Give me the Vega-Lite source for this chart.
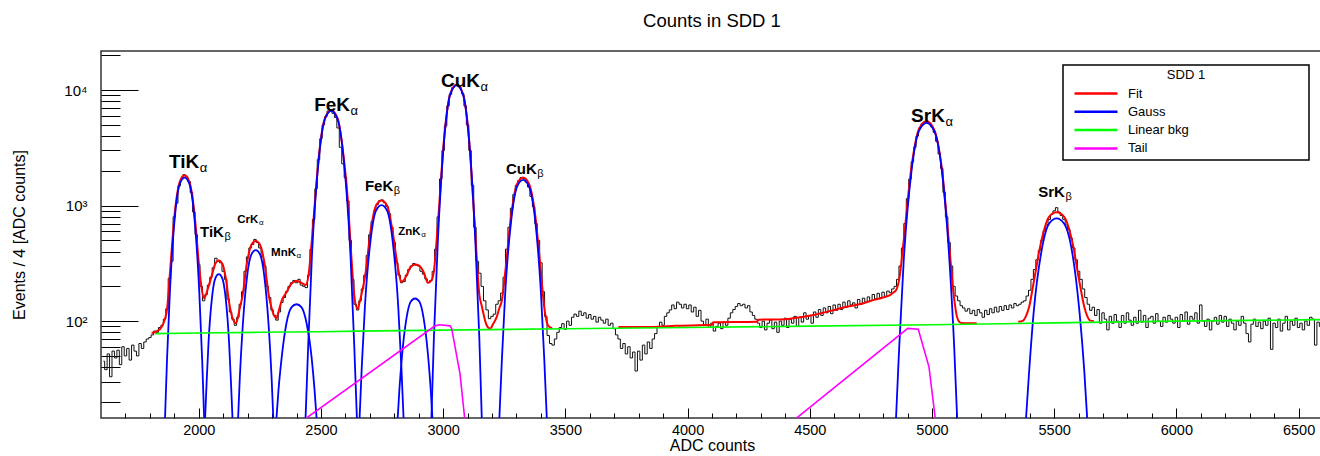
{
"$schema": "https://vega.github.io/schema/vega-lite/v6.json",
"width": 1222, "height": 367,
"autosize": {"type": "none"},
"padding": {"left": 101, "top": 51, "right": 0, "bottom": 38},
"background": "white",
"title": {"text": "Counts in SDD 1", "font": "Liberation Sans", "fontSize": 18.5, "fontWeight": "normal", "color": "black", "anchor": "middle", "frame": "group", "baseline": "alphabetic", "offset": 3},
"config": {"view": {"stroke": "#333", "strokeWidth": 1.5}, "font": "Liberation Sans"},
"datasets": {
"hist": [
{"adc":1610,"val":45},{"adc":1620,"val":38},{"adc":1630,"val":52},{"adc":1640,"val":33},{"adc":1650,"val":55},{"adc":1660,"val":48},{"adc":1670,"val":56},{"adc":1680,"val":42},{"adc":1690,"val":60},{"adc":1700,"val":50},
{"adc":1710,"val":58},{"adc":1720,"val":46},{"adc":1730,"val":62},{"adc":1740,"val":55},{"adc":1750,"val":50},{"adc":1760,"val":64},{"adc":1770,"val":58},{"adc":1780,"val":66},{"adc":1790,"val":70},{"adc":1800,"val":72},
{"adc":1810,"val":76},{"adc":1820,"val":82},{"adc":1830,"val":80},{"adc":1840,"val":88},{"adc":1850,"val":92},{"adc":1860,"val":104},{"adc":1870,"val":128},{"adc":1880,"val":235},{"adc":1890,"val":330},{"adc":1900,"val":800},
{"adc":1910,"val":1050},{"adc":1920,"val":1480},{"adc":1930,"val":1700},{"adc":1940,"val":1850},{"adc":1950,"val":1780},{"adc":1960,"val":1620},{"adc":1970,"val":1300},{"adc":1980,"val":880},{"adc":1990,"val":560},{"adc":2000,"val":310},
{"adc":2010,"val":200},{"adc":2020,"val":150},{"adc":2030,"val":170},{"adc":2040,"val":205},{"adc":2050,"val":240},{"adc":2060,"val":290},{"adc":2070,"val":350},{"adc":2080,"val":330},{"adc":2090,"val":320},{"adc":2100,"val":270},
{"adc":2110,"val":230},{"adc":2120,"val":155},{"adc":2130,"val":120},{"adc":2140,"val":104},{"adc":2150,"val":92},{"adc":2160,"val":108},{"adc":2170,"val":140},{"adc":2180,"val":180},{"adc":2190,"val":270},{"adc":2200,"val":360},
{"adc":2210,"val":430},{"adc":2220,"val":460},{"adc":2230,"val":510},{"adc":2240,"val":480},{"adc":2250,"val":430},{"adc":2260,"val":360},{"adc":2270,"val":300},{"adc":2280,"val":200},{"adc":2290,"val":160},{"adc":2300,"val":125},
{"adc":2310,"val":112},{"adc":2320,"val":102},{"adc":2330,"val":120},{"adc":2340,"val":145},{"adc":2350,"val":160},{"adc":2360,"val":180},{"adc":2370,"val":200},{"adc":2380,"val":215},{"adc":2390,"val":225},{"adc":2400,"val":215},
{"adc":2410,"val":230},{"adc":2420,"val":205},{"adc":2430,"val":200},{"adc":2440,"val":195},{"adc":2450,"val":250},{"adc":2460,"val":420},{"adc":2470,"val":760},{"adc":2480,"val":1400},{"adc":2490,"val":2500},{"adc":2500,"val":3800},
{"adc":2510,"val":5000},{"adc":2520,"val":5900},{"adc":2530,"val":6600},{"adc":2540,"val":6700},{"adc":2550,"val":6300},{"adc":2560,"val":5800},{"adc":2570,"val":4700},{"adc":2580,"val":3200},{"adc":2590,"val":2300},{"adc":2600,"val":1750},
{"adc":2610,"val":1100},{"adc":2620,"val":500},{"adc":2630,"val":230},{"adc":2640,"val":140},{"adc":2650,"val":125},{"adc":2660,"val":150},{"adc":2670,"val":190},{"adc":2680,"val":250},{"adc":2690,"val":370},{"adc":2700,"val":560},
{"adc":2710,"val":730},{"adc":2720,"val":900},{"adc":2730,"val":1020},{"adc":2740,"val":1100},{"adc":2750,"val":1120},{"adc":2760,"val":1060},{"adc":2770,"val":980},{"adc":2780,"val":850},{"adc":2790,"val":650},{"adc":2800,"val":480},
{"adc":2810,"val":320},{"adc":2820,"val":250},{"adc":2830,"val":215},{"adc":2840,"val":220},{"adc":2850,"val":250},{"adc":2860,"val":280},{"adc":2870,"val":300},{"adc":2880,"val":315},{"adc":2890,"val":305},{"adc":2900,"val":300},
{"adc":2910,"val":270},{"adc":2920,"val":255},{"adc":2930,"val":232},{"adc":2940,"val":215},{"adc":2950,"val":225},{"adc":2960,"val":270},{"adc":2970,"val":420},{"adc":2980,"val":800},{"adc":2990,"val":1700},{"adc":3000,"val":3000},
{"adc":3010,"val":4900},{"adc":3020,"val":7300},{"adc":3030,"val":9200},{"adc":3040,"val":10500},{"adc":3050,"val":11000},{"adc":3060,"val":11100},{"adc":3070,"val":10500},{"adc":3080,"val":9300},{"adc":3090,"val":7300},{"adc":3100,"val":5000},
{"adc":3110,"val":3000},{"adc":3120,"val":1500},{"adc":3130,"val":650},{"adc":3140,"val":330},{"adc":3150,"val":260},{"adc":3160,"val":200},{"adc":3170,"val":150},{"adc":3180,"val":125},{"adc":3190,"val":105},{"adc":3200,"val":110},
{"adc":3210,"val":115},{"adc":3220,"val":140},{"adc":3230,"val":150},{"adc":3240,"val":175},{"adc":3250,"val":240},{"adc":3260,"val":420},{"adc":3270,"val":650},{"adc":3280,"val":950},{"adc":3290,"val":1250},{"adc":3300,"val":1500},
{"adc":3310,"val":1650},{"adc":3320,"val":1750},{"adc":3330,"val":1720},{"adc":3340,"val":1600},{"adc":3350,"val":1450},{"adc":3360,"val":1200},{"adc":3370,"val":980},{"adc":3380,"val":700},{"adc":3390,"val":500},{"adc":3400,"val":320},
{"adc":3410,"val":180},{"adc":3420,"val":110},{"adc":3430,"val":75},{"adc":3440,"val":64},{"adc":3450,"val":62},{"adc":3460,"val":70},{"adc":3470,"val":80},{"adc":3480,"val":88},{"adc":3490,"val":95},{"adc":3500,"val":85},
{"adc":3510,"val":100},{"adc":3520,"val":92},{"adc":3530,"val":108},{"adc":3540,"val":115},{"adc":3550,"val":110},{"adc":3560,"val":122},{"adc":3570,"val":112},{"adc":3580,"val":118},{"adc":3590,"val":106},{"adc":3600,"val":114},
{"adc":3610,"val":104},{"adc":3620,"val":110},{"adc":3630,"val":98},{"adc":3640,"val":108},{"adc":3650,"val":102},{"adc":3660,"val":96},{"adc":3670,"val":104},{"adc":3680,"val":92},{"adc":3690,"val":96},{"adc":3700,"val":86},
{"adc":3710,"val":76},{"adc":3720,"val":70},{"adc":3730,"val":58},{"adc":3740,"val":64},{"adc":3750,"val":52},{"adc":3760,"val":60},{"adc":3770,"val":48},{"adc":3780,"val":54},{"adc":3790,"val":37},{"adc":3800,"val":55},
{"adc":3810,"val":46},{"adc":3820,"val":62},{"adc":3830,"val":52},{"adc":3840,"val":66},{"adc":3850,"val":58},{"adc":3860,"val":70},{"adc":3870,"val":78},{"adc":3880,"val":88},{"adc":3890,"val":98},{"adc":3900,"val":92},
{"adc":3910,"val":110},{"adc":3920,"val":118},{"adc":3930,"val":125},{"adc":3940,"val":138},{"adc":3950,"val":128},{"adc":3960,"val":146},{"adc":3970,"val":140},{"adc":3980,"val":130},{"adc":3990,"val":140},{"adc":4000,"val":128},
{"adc":4010,"val":138},{"adc":4020,"val":120},{"adc":4030,"val":132},{"adc":4040,"val":110},{"adc":4050,"val":124},{"adc":4060,"val":100},{"adc":4070,"val":92},{"adc":4080,"val":104},{"adc":4090,"val":88},{"adc":4100,"val":96},
{"adc":4110,"val":82},{"adc":4120,"val":90},{"adc":4130,"val":96},{"adc":4140,"val":86},{"adc":4150,"val":98},{"adc":4160,"val":92},{"adc":4170,"val":106},{"adc":4180,"val":118},{"adc":4190,"val":126},{"adc":4200,"val":134},
{"adc":4210,"val":142},{"adc":4220,"val":136},{"adc":4230,"val":140},{"adc":4240,"val":130},{"adc":4250,"val":136},{"adc":4260,"val":120},{"adc":4270,"val":112},{"adc":4280,"val":104},{"adc":4290,"val":96},{"adc":4300,"val":88},
{"adc":4310,"val":100},{"adc":4320,"val":84},{"adc":4330,"val":96},{"adc":4340,"val":102},{"adc":4350,"val":86},{"adc":4360,"val":98},{"adc":4370,"val":80},{"adc":4380,"val":100},{"adc":4390,"val":92},{"adc":4400,"val":106},
{"adc":4410,"val":88},{"adc":4420,"val":104},{"adc":4430,"val":96},{"adc":4440,"val":110},{"adc":4450,"val":90},{"adc":4460,"val":108},{"adc":4470,"val":98},{"adc":4480,"val":118},{"adc":4490,"val":104},{"adc":4500,"val":112},
{"adc":4510,"val":96},{"adc":4520,"val":120},{"adc":4530,"val":108},{"adc":4540,"val":126},{"adc":4550,"val":112},{"adc":4560,"val":130},{"adc":4570,"val":118},{"adc":4580,"val":134},{"adc":4590,"val":116},{"adc":4600,"val":138},
{"adc":4610,"val":124},{"adc":4620,"val":140},{"adc":4630,"val":126},{"adc":4640,"val":146},{"adc":4650,"val":132},{"adc":4660,"val":150},{"adc":4670,"val":138},{"adc":4680,"val":144},{"adc":4690,"val":130},{"adc":4700,"val":154},
{"adc":4710,"val":140},{"adc":4720,"val":158},{"adc":4730,"val":146},{"adc":4740,"val":162},{"adc":4750,"val":150},{"adc":4760,"val":170},{"adc":4770,"val":156},{"adc":4780,"val":174},{"adc":4790,"val":160},{"adc":4800,"val":178},
{"adc":4810,"val":164},{"adc":4820,"val":182},{"adc":4830,"val":176},{"adc":4840,"val":190},{"adc":4850,"val":200},{"adc":4860,"val":230},{"adc":4870,"val":300},{"adc":4880,"val":430},{"adc":4890,"val":700},{"adc":4900,"val":1150},
{"adc":4910,"val":1700},{"adc":4920,"val":2400},{"adc":4930,"val":3200},{"adc":4940,"val":4000},{"adc":4950,"val":4700},{"adc":4960,"val":5100},{"adc":4970,"val":5300},{"adc":4980,"val":5400},{"adc":4990,"val":5200},{"adc":5000,"val":4800},
{"adc":5010,"val":4300},{"adc":5020,"val":3600},{"adc":5030,"val":2800},{"adc":5040,"val":2100},{"adc":5050,"val":1300},{"adc":5060,"val":800},{"adc":5070,"val":480},{"adc":5080,"val":300},{"adc":5090,"val":200},{"adc":5100,"val":165},
{"adc":5110,"val":150},{"adc":5120,"val":136},{"adc":5130,"val":130},{"adc":5140,"val":122},{"adc":5150,"val":128},{"adc":5160,"val":116},{"adc":5170,"val":124},{"adc":5180,"val":112},{"adc":5190,"val":126},{"adc":5200,"val":118},
{"adc":5210,"val":108},{"adc":5220,"val":124},{"adc":5230,"val":114},{"adc":5240,"val":128},{"adc":5250,"val":118},{"adc":5260,"val":132},{"adc":5270,"val":120},{"adc":5280,"val":134},{"adc":5290,"val":124},{"adc":5300,"val":136},
{"adc":5310,"val":126},{"adc":5320,"val":138},{"adc":5330,"val":130},{"adc":5340,"val":142},{"adc":5350,"val":136},{"adc":5360,"val":140},{"adc":5370,"val":146},{"adc":5380,"val":150},{"adc":5390,"val":165},{"adc":5400,"val":185},
{"adc":5410,"val":230},{"adc":5420,"val":280},{"adc":5430,"val":340},{"adc":5440,"val":410},{"adc":5450,"val":500},{"adc":5460,"val":600},{"adc":5470,"val":680},{"adc":5480,"val":760},{"adc":5490,"val":840},{"adc":5500,"val":900},
{"adc":5510,"val":960},{"adc":5520,"val":880},{"adc":5530,"val":820},{"adc":5540,"val":760},{"adc":5550,"val":680},{"adc":5560,"val":620},{"adc":5570,"val":520},{"adc":5580,"val":430},{"adc":5590,"val":340},{"adc":5600,"val":270},
{"adc":5610,"val":230},{"adc":5620,"val":190},{"adc":5630,"val":160},{"adc":5640,"val":140},{"adc":5650,"val":124},{"adc":5660,"val":132},{"adc":5670,"val":112},{"adc":5680,"val":126},{"adc":5690,"val":96},{"adc":5700,"val":118},
{"adc":5710,"val":104},{"adc":5720,"val":84},{"adc":5730,"val":110},{"adc":5740,"val":96},{"adc":5750,"val":114},{"adc":5760,"val":100},{"adc":5770,"val":88},{"adc":5780,"val":112},{"adc":5790,"val":96},{"adc":5800,"val":118},
{"adc":5810,"val":102},{"adc":5820,"val":92},{"adc":5830,"val":108},{"adc":5840,"val":96},{"adc":5850,"val":124},{"adc":5860,"val":98},{"adc":5870,"val":112},{"adc":5880,"val":88},{"adc":5890,"val":106},{"adc":5900,"val":110},
{"adc":5910,"val":96},{"adc":5920,"val":116},{"adc":5930,"val":100},{"adc":5940,"val":90},{"adc":5950,"val":108},{"adc":5960,"val":98},{"adc":5970,"val":112},{"adc":5980,"val":104},{"adc":5990,"val":96},{"adc":6000,"val":108},
{"adc":6010,"val":88},{"adc":6020,"val":114},{"adc":6030,"val":100},{"adc":6040,"val":120},{"adc":6050,"val":94},{"adc":6060,"val":110},{"adc":6070,"val":104},{"adc":6080,"val":118},{"adc":6090,"val":96},{"adc":6100,"val":138},
{"adc":6110,"val":100},{"adc":6120,"val":90},{"adc":6130,"val":104},{"adc":6140,"val":84},{"adc":6150,"val":100},{"adc":6160,"val":108},{"adc":6170,"val":94},{"adc":6180,"val":112},{"adc":6190,"val":98},{"adc":6200,"val":110},
{"adc":6210,"val":90},{"adc":6220,"val":104},{"adc":6230,"val":96},{"adc":6240,"val":84},{"adc":6250,"val":100},{"adc":6260,"val":92},{"adc":6270,"val":110},{"adc":6280,"val":96},{"adc":6290,"val":78},{"adc":6300,"val":66},
{"adc":6310,"val":94},{"adc":6320,"val":104},{"adc":6330,"val":90},{"adc":6340,"val":98},{"adc":6350,"val":86},{"adc":6360,"val":100},{"adc":6370,"val":92},{"adc":6380,"val":106},{"adc":6390,"val":57},{"adc":6400,"val":96},
{"adc":6410,"val":88},{"adc":6420,"val":104},{"adc":6430,"val":82},{"adc":6440,"val":96},{"adc":6450,"val":110},{"adc":6460,"val":84},{"adc":6470,"val":100},{"adc":6480,"val":92},{"adc":6490,"val":106},{"adc":6500,"val":88},
{"adc":6510,"val":96},{"adc":6520,"val":84},{"adc":6530,"val":100},{"adc":6540,"val":92},{"adc":6550,"val":108},{"adc":6560,"val":104},{"adc":6570,"val":62},{"adc":6580,"val":98},{"adc":6590,"val":90},{"adc":6600,"val":96}
],
"curves": [
{"series":"Fit","part":"f1","adc":1807,"val":79},{"series":"Fit","part":"f1","adc":1830,"val":82},{"series":"Fit","part":"f1","adc":1848,"val":89},{"series":"Fit","part":"f1","adc":1862,"val":105},{"series":"Fit","part":"f1","adc":1870,"val":125},{"series":"Fit","part":"f1","adc":1882,"val":260},{"series":"Fit","part":"f1","adc":1902,"val":870},{"series":"Fit","part":"f1","adc":1922,"val":1600},{"series":"Fit","part":"f1","adc":1942,"val":1830},{"series":"Fit","part":"f1","adc":1962,"val":1600},
{"series":"Fit","part":"f1","adc":1982,"val":870},{"series":"Fit","part":"f1","adc":2002,"val":290},{"series":"Fit","part":"f1","adc":2012,"val":190},{"series":"Fit","part":"f1","adc":2021,"val":158},{"series":"Fit","part":"f1","adc":2032,"val":175},{"series":"Fit","part":"f1","adc":2040,"val":200},{"series":"Fit","part":"f1","adc":2054,"val":250},{"series":"Fit","part":"f1","adc":2068,"val":316},{"series":"Fit","part":"f1","adc":2082,"val":335},{"series":"Fit","part":"f1","adc":2096,"val":316},
{"series":"Fit","part":"f1","adc":2110,"val":240},{"series":"Fit","part":"f1","adc":2124,"val":146},{"series":"Fit","part":"f1","adc":2137,"val":108},{"series":"Fit","part":"f1","adc":2152,"val":96},{"series":"Fit","part":"f1","adc":2161,"val":110},{"series":"Fit","part":"f1","adc":2168,"val":130},{"series":"Fit","part":"f1","adc":2179,"val":165},{"series":"Fit","part":"f1","adc":2197,"val":317},{"series":"Fit","part":"f1","adc":2215,"val":456},{"series":"Fit","part":"f1","adc":2233,"val":495},
{"series":"Fit","part":"f1","adc":2251,"val":456},{"series":"Fit","part":"f1","adc":2269,"val":317},{"series":"Fit","part":"f1","adc":2287,"val":165},{"series":"Fit","part":"f1","adc":2298,"val":130},{"series":"Fit","part":"f1","adc":2310,"val":110},{"series":"Fit","part":"f1","adc":2318,"val":106},{"series":"Fit","part":"f1","adc":2326,"val":120},{"series":"Fit","part":"f1","adc":2339,"val":150},{"series":"Fit","part":"f1","adc":2359,"val":178},{"series":"Fit","part":"f1","adc":2380,"val":212},
{"series":"Fit","part":"f1","adc":2400,"val":222},{"series":"Fit","part":"f1","adc":2421,"val":214},{"series":"Fit","part":"f1","adc":2437,"val":205},{"series":"Fit","part":"f1","adc":2448,"val":240},{"series":"Fit","part":"f1","adc":2463,"val":510},{"series":"Fit","part":"f1","adc":2475,"val":1050},{"series":"Fit","part":"f1","adc":2490,"val":2500},{"series":"Fit","part":"f1","adc":2516,"val":5700},{"series":"Fit","part":"f1","adc":2542,"val":6700},{"series":"Fit","part":"f1","adc":2568,"val":5700},
{"series":"Fit","part":"f1","adc":2594,"val":2500},{"series":"Fit","part":"f1","adc":2610,"val":1100},{"series":"Fit","part":"f1","adc":2621,"val":470},{"series":"Fit","part":"f1","adc":2636,"val":170},{"series":"Fit","part":"f1","adc":2649,"val":128},{"series":"Fit","part":"f1","adc":2658,"val":145},{"series":"Fit","part":"f1","adc":2667,"val":175},{"series":"Fit","part":"f1","adc":2680,"val":240},{"series":"Fit","part":"f1","adc":2703,"val":600},{"series":"Fit","part":"f1","adc":2725,"val":1000},
{"series":"Fit","part":"f1","adc":2748,"val":1110},{"series":"Fit","part":"f1","adc":2771,"val":1000},{"series":"Fit","part":"f1","adc":2793,"val":600},{"series":"Fit","part":"f1","adc":2816,"val":282},{"series":"Fit","part":"f1","adc":2829,"val":218},{"series":"Fit","part":"f1","adc":2838,"val":225},{"series":"Fit","part":"f1","adc":2850,"val":248},{"series":"Fit","part":"f1","adc":2867,"val":294},{"series":"Fit","part":"f1","adc":2885,"val":309},{"series":"Fit","part":"f1","adc":2903,"val":301},
{"series":"Fit","part":"f1","adc":2920,"val":266},{"series":"Fit","part":"f1","adc":2938,"val":215},{"series":"Fit","part":"f1","adc":2952,"val":225},{"series":"Fit","part":"f1","adc":2962,"val":270},{"series":"Fit","part":"f1","adc":2978,"val":680},{"series":"Fit","part":"f1","adc":3004,"val":3860},{"series":"Fit","part":"f1","adc":3029,"val":9300},{"series":"Fit","part":"f1","adc":3055,"val":11200},{"series":"Fit","part":"f1","adc":3081,"val":9300},{"series":"Fit","part":"f1","adc":3106,"val":3750},
{"series":"Fit","part":"f1","adc":3132,"val":540},{"series":"Fit","part":"f1","adc":3148,"val":170},{"series":"Fit","part":"f1","adc":3158,"val":135},{"series":"Fit","part":"f1","adc":3178,"val":92},{"series":"Fit","part":"f1","adc":3192,"val":86},{"series":"Fit","part":"f1","adc":3205,"val":95},{"series":"Fit","part":"f1","adc":3220,"val":110},{"series":"Fit","part":"f1","adc":3230,"val":130},{"series":"Fit","part":"f1","adc":3240,"val":150},{"series":"Fit","part":"f1","adc":3254,"val":265},
{"series":"Fit","part":"f1","adc":3279,"val":850},{"series":"Fit","part":"f1","adc":3303,"val":1550},{"series":"Fit","part":"f1","adc":3327,"val":1750},{"series":"Fit","part":"f1","adc":3351,"val":1550},{"series":"Fit","part":"f1","adc":3376,"val":850},{"series":"Fit","part":"f1","adc":3400,"val":265},{"series":"Fit","part":"f1","adc":3414,"val":130},{"series":"Fit","part":"f1","adc":3424,"val":98},{"series":"Fit","part":"f1","adc":3432,"val":90},{"series":"Fit","part":"f1","adc":3446,"val":87},
{"series":"Fit","part":"f2","adc":3717,"val":89},{"series":"Fit","part":"f2","adc":3860,"val":89},{"series":"Fit","part":"f2","adc":3950,"val":91},{"series":"Fit","part":"f2","adc":4100,"val":93},{"series":"Fit","part":"f2","adc":4105,"val":98},{"series":"Fit","part":"f2","adc":4285,"val":99},{"series":"Fit","part":"f2","adc":4290,"val":103},{"series":"Fit","part":"f2","adc":4400,"val":104},{"series":"Fit","part":"f2","adc":4460,"val":108},{"series":"Fit","part":"f2","adc":4515,"val":113},
{"series":"Fit","part":"f2","adc":4580,"val":122},{"series":"Fit","part":"f2","adc":4651,"val":133},{"series":"Fit","part":"f2","adc":4720,"val":143},{"series":"Fit","part":"f2","adc":4760,"val":152},{"series":"Fit","part":"f2","adc":4800,"val":160},{"series":"Fit","part":"f2","adc":4828,"val":168},{"series":"Fit","part":"f2","adc":4841,"val":176},{"series":"Fit","part":"f2","adc":4853,"val":185},{"series":"Fit","part":"f2","adc":4866,"val":230},{"series":"Fit","part":"f2","adc":4884,"val":490},
{"series":"Fit","part":"f2","adc":4916,"val":2140},{"series":"Fit","part":"f2","adc":4947,"val":4600},{"series":"Fit","part":"f2","adc":4978,"val":5370},{"series":"Fit","part":"f2","adc":5009,"val":4550},{"series":"Fit","part":"f2","adc":5041,"val":2050},{"series":"Fit","part":"f2","adc":5072,"val":415},{"series":"Fit","part":"f2","adc":5091,"val":155},{"series":"Fit","part":"f2","adc":5103,"val":108},{"series":"Fit","part":"f2","adc":5116,"val":97},{"series":"Fit","part":"f2","adc":5128,"val":96},{"series":"Fit","part":"f2","adc":5183,"val":96},
{"series":"Fit","part":"f3","adc":5353,"val":98.6},{"series":"Fit","part":"f3","adc":5373,"val":101},{"series":"Fit","part":"f3","adc":5385,"val":111},{"series":"Fit","part":"f3","adc":5398,"val":134},{"series":"Fit","part":"f3","adc":5416,"val":215},{"series":"Fit","part":"f3","adc":5448,"val":500},{"series":"Fit","part":"f3","adc":5479,"val":800},{"series":"Fit","part":"f3","adc":5510,"val":875},{"series":"Fit","part":"f3","adc":5541,"val":800},{"series":"Fit","part":"f3","adc":5573,"val":500},
{"series":"Fit","part":"f3","adc":5604,"val":215},{"series":"Fit","part":"f3","adc":5623,"val":134},{"series":"Fit","part":"f3","adc":5635,"val":111},{"series":"Fit","part":"f3","adc":5648,"val":101},{"series":"Fit","part":"f3","adc":5663,"val":100},
{"series":"Gauss","part":"TiKa","adc":1854,"val":3.77},{"series":"Gauss","part":"TiKa","adc":1862,"val":14.5},{"series":"Gauss","part":"TiKa","adc":1870,"val":45.8},{"series":"Gauss","part":"TiKa","adc":1882,"val":181},{"series":"Gauss","part":"TiKa","adc":1902,"val":793},{"series":"Gauss","part":"TiKa","adc":1922,"val":1536},{"series":"Gauss","part":"TiKa","adc":1942,"val":1750},{"series":"Gauss","part":"TiKa","adc":1962,"val":1536},{"series":"Gauss","part":"TiKa","adc":1982,"val":793},{"series":"Gauss","part":"TiKa","adc":2002,"val":181},{"series":"Gauss","part":"TiKa","adc":2014,"val":45.8},{"series":"Gauss","part":"TiKa","adc":2022,"val":14.5},{"series":"Gauss","part":"TiKa","adc":2030,"val":3.77},
{"series":"Gauss","part":"TiKb","adc":2020,"val":6.48},{"series":"Gauss","part":"TiKb","adc":2026,"val":14.5},{"series":"Gauss","part":"TiKb","adc":2032,"val":28.9},{"series":"Gauss","part":"TiKb","adc":2040,"val":65.7},{"series":"Gauss","part":"TiKb","adc":2054,"val":159},{"series":"Gauss","part":"TiKb","adc":2068,"val":236},{"series":"Gauss","part":"TiKb","adc":2082,"val":255},{"series":"Gauss","part":"TiKb","adc":2096,"val":236},{"series":"Gauss","part":"TiKb","adc":2110,"val":159},{"series":"Gauss","part":"TiKb","adc":2124,"val":65.7},{"series":"Gauss","part":"TiKb","adc":2132,"val":28.9},{"series":"Gauss","part":"TiKb","adc":2138,"val":14.5},{"series":"Gauss","part":"TiKb","adc":2144,"val":6.48},
{"series":"Gauss","part":"CrKa","adc":2154,"val":5.66},{"series":"Gauss","part":"CrKa","adc":2161,"val":14.5},{"series":"Gauss","part":"CrKa","adc":2168,"val":32.4},{"series":"Gauss","part":"CrKa","adc":2179,"val":84.6},{"series":"Gauss","part":"CrKa","adc":2197,"val":237},{"series":"Gauss","part":"CrKa","adc":2215,"val":376},{"series":"Gauss","part":"CrKa","adc":2233,"val":412},{"series":"Gauss","part":"CrKa","adc":2251,"val":376},{"series":"Gauss","part":"CrKa","adc":2269,"val":237},{"series":"Gauss","part":"CrKa","adc":2287,"val":84.6},{"series":"Gauss","part":"CrKa","adc":2298,"val":32.4},{"series":"Gauss","part":"CrKa","adc":2305,"val":14.5},{"series":"Gauss","part":"CrKa","adc":2312,"val":5.66},
{"series":"Gauss","part":"MnKa","adc":2310,"val":7.67},{"series":"Gauss","part":"MnKa","adc":2318,"val":14.5},{"series":"Gauss","part":"MnKa","adc":2326,"val":25},{"series":"Gauss","part":"MnKa","adc":2339,"val":47.9},{"series":"Gauss","part":"MnKa","adc":2359,"val":96.3},{"series":"Gauss","part":"MnKa","adc":2380,"val":132},{"series":"Gauss","part":"MnKa","adc":2400,"val":140},{"series":"Gauss","part":"MnKa","adc":2420,"val":132},{"series":"Gauss","part":"MnKa","adc":2441,"val":96.3},{"series":"Gauss","part":"MnKa","adc":2462,"val":47.9},{"series":"Gauss","part":"MnKa","adc":2474,"val":25},{"series":"Gauss","part":"MnKa","adc":2482,"val":14.5},{"series":"Gauss","part":"MnKa","adc":2490,"val":7.67},
{"series":"Gauss","part":"FeKa","adc":2427,"val":2.6},{"series":"Gauss","part":"FeKa","adc":2437,"val":14.5},{"series":"Gauss","part":"FeKa","adc":2448,"val":63},{"series":"Gauss","part":"FeKa","adc":2463,"val":365},{"series":"Gauss","part":"FeKa","adc":2490,"val":2404},{"series":"Gauss","part":"FeKa","adc":2516,"val":5588},{"series":"Gauss","part":"FeKa","adc":2542,"val":6600},{"series":"Gauss","part":"FeKa","adc":2568,"val":5588},{"series":"Gauss","part":"FeKa","adc":2594,"val":2404},{"series":"Gauss","part":"FeKa","adc":2621,"val":365},{"series":"Gauss","part":"FeKa","adc":2636,"val":63},{"series":"Gauss","part":"FeKa","adc":2647,"val":14.5},{"series":"Gauss","part":"FeKa","adc":2658,"val":2.6},
{"series":"Gauss","part":"FeKb","adc":2649,"val":4.4},{"series":"Gauss","part":"FeKb","adc":2658,"val":14.5},{"series":"Gauss","part":"FeKb","adc":2667,"val":40.2},{"series":"Gauss","part":"FeKb","adc":2680,"val":135.7},{"series":"Gauss","part":"FeKb","adc":2703,"val":501},{"series":"Gauss","part":"FeKb","adc":2725,"val":900},{"series":"Gauss","part":"FeKb","adc":2748,"val":1010},{"series":"Gauss","part":"FeKb","adc":2771,"val":900},{"series":"Gauss","part":"FeKb","adc":2793,"val":501},{"series":"Gauss","part":"FeKb","adc":2816,"val":135.7},{"series":"Gauss","part":"FeKb","adc":2829,"val":40.2},{"series":"Gauss","part":"FeKb","adc":2838,"val":14.5},{"series":"Gauss","part":"FeKb","adc":2847,"val":4.4},
{"series":"Gauss","part":"ZnKa","adc":2807,"val":7.4},{"series":"Gauss","part":"ZnKa","adc":2814,"val":14.5},{"series":"Gauss","part":"ZnKa","adc":2821,"val":25.7},{"series":"Gauss","part":"ZnKa","adc":2832,"val":50.9},{"series":"Gauss","part":"ZnKa","adc":2850,"val":106},{"series":"Gauss","part":"ZnKa","adc":2867,"val":147},{"series":"Gauss","part":"ZnKa","adc":2885,"val":157},{"series":"Gauss","part":"ZnKa","adc":2903,"val":147},{"series":"Gauss","part":"ZnKa","adc":2920,"val":106},{"series":"Gauss","part":"ZnKa","adc":2938,"val":50.9},{"series":"Gauss","part":"ZnKa","adc":2949,"val":25.7},{"series":"Gauss","part":"ZnKa","adc":2956,"val":14.5},{"series":"Gauss","part":"ZnKa","adc":2963,"val":7.4},
{"series":"Gauss","part":"CuKa","adc":2942,"val":2.25},{"series":"Gauss","part":"CuKa","adc":2952,"val":14.5},{"series":"Gauss","part":"CuKa","adc":2962,"val":71.2},{"series":"Gauss","part":"CuKa","adc":2978,"val":478},{"series":"Gauss","part":"CuKa","adc":3004,"val":3684},{"series":"Gauss","part":"CuKa","adc":3029,"val":9186},{"series":"Gauss","part":"CuKa","adc":3055,"val":11000},{"series":"Gauss","part":"CuKa","adc":3081,"val":9186},{"series":"Gauss","part":"CuKa","adc":3106,"val":3684},{"series":"Gauss","part":"CuKa","adc":3132,"val":478},{"series":"Gauss","part":"CuKa","adc":3148,"val":71.2},{"series":"Gauss","part":"CuKa","adc":3158,"val":14.5},{"series":"Gauss","part":"CuKa","adc":3168,"val":2.25},
{"series":"Gauss","part":"CuKb","adc":3220,"val":3.8},{"series":"Gauss","part":"CuKb","adc":3230,"val":14.5},{"series":"Gauss","part":"CuKb","adc":3240,"val":45.3},{"series":"Gauss","part":"CuKb","adc":3254,"val":177},{"series":"Gauss","part":"CuKb","adc":3279,"val":763},{"series":"Gauss","part":"CuKb","adc":3303,"val":1467},{"series":"Gauss","part":"CuKb","adc":3327,"val":1670},{"series":"Gauss","part":"CuKb","adc":3351,"val":1467},{"series":"Gauss","part":"CuKb","adc":3376,"val":763},{"series":"Gauss","part":"CuKb","adc":3400,"val":177},{"series":"Gauss","part":"CuKb","adc":3414,"val":45.3},{"series":"Gauss","part":"CuKb","adc":3424,"val":14.5},{"series":"Gauss","part":"CuKb","adc":3434,"val":3.8},
{"series":"Gauss","part":"SrKa","adc":4841,"val":2.78},{"series":"Gauss","part":"SrKa","adc":4853,"val":14.5},{"series":"Gauss","part":"SrKa","adc":4866,"val":59.5},{"series":"Gauss","part":"SrKa","adc":4884,"val":322},{"series":"Gauss","part":"SrKa","adc":4916,"val":1970},{"series":"Gauss","part":"SrKa","adc":4947,"val":4432},{"series":"Gauss","part":"SrKa","adc":4978,"val":5200},{"series":"Gauss","part":"SrKa","adc":5009,"val":4432},{"series":"Gauss","part":"SrKa","adc":5041,"val":1970},{"series":"Gauss","part":"SrKa","adc":5072,"val":322},{"series":"Gauss","part":"SrKa","adc":5091,"val":59.5},{"series":"Gauss","part":"SrKa","adc":5103,"val":14.5},{"series":"Gauss","part":"SrKa","adc":5116,"val":2.78},
{"series":"Gauss","part":"SrKb","adc":5373,"val":4.74},{"series":"Gauss","part":"SrKb","adc":5385,"val":14.5},{"series":"Gauss","part":"SrKb","adc":5398,"val":37.7},{"series":"Gauss","part":"SrKb","adc":5416,"val":118},{"series":"Gauss","part":"SrKb","adc":5448,"val":402},{"series":"Gauss","part":"SrKb","adc":5479,"val":696},{"series":"Gauss","part":"SrKb","adc":5510,"val":775},{"series":"Gauss","part":"SrKb","adc":5541,"val":696},{"series":"Gauss","part":"SrKb","adc":5573,"val":402},{"series":"Gauss","part":"SrKb","adc":5604,"val":118},{"series":"Gauss","part":"SrKb","adc":5623,"val":37.7},{"series":"Gauss","part":"SrKb","adc":5635,"val":14.5},{"series":"Gauss","part":"SrKb","adc":5648,"val":4.74},
{"series":"Linear bkg","part":"b","adc":1821,"val":78},{"series":"Linear bkg","part":"b","adc":2000,"val":79},{"series":"Linear bkg","part":"b","adc":2250,"val":80},{"series":"Linear bkg","part":"b","adc":2500,"val":81},{"series":"Linear bkg","part":"b","adc":2650,"val":82},{"series":"Linear bkg","part":"b","adc":3000,"val":83.5},{"series":"Linear bkg","part":"b","adc":3500,"val":86},{"series":"Linear bkg","part":"b","adc":4000,"val":88},{"series":"Linear bkg","part":"b","adc":4500,"val":90.5},{"series":"Linear bkg","part":"b","adc":5000,"val":93},{"series":"Linear bkg","part":"b","adc":5500,"val":96.5},{"series":"Linear bkg","part":"b","adc":6000,"val":100},{"series":"Linear bkg","part":"b","adc":6600,"val":103},
{"series":"Tail","part":"t1","adc":2420,"val":13.5},{"series":"Tail","part":"t1","adc":2967,"val":91},{"series":"Tail","part":"t1","adc":2985,"val":93},{"series":"Tail","part":"t1","adc":3028,"val":91},{"series":"Tail","part":"t1","adc":3035,"val":86},{"series":"Tail","part":"t1","adc":3069,"val":35},{"series":"Tail","part":"t1","adc":3092,"val":12},
{"series":"Tail","part":"t2","adc":4430,"val":13.6},{"series":"Tail","part":"t2","adc":4901,"val":86.5},{"series":"Tail","part":"t2","adc":4944,"val":85},{"series":"Tail","part":"t2","adc":4988,"val":40},{"series":"Tail","part":"t2","adc":5018,"val":12}
],
"labels": [
{"cls":"big","main":"TiK","sub":"α","adc":2002,"val":2113},
{"cls":"big","main":"FeK","sub":"α","adc":2619,"val":6575},
{"cls":"big","main":"CuK","sub":"α","adc":3151,"val":10550},
{"cls":"big","main":"SrK","sub":"α","adc":5053,"val":5322},
{"cls":"mid","main":"TiK","sub":"β","adc":2103,"val":537},
{"cls":"mid","main":"FeK","sub":"β","adc":2796,"val":1343},
{"cls":"mid","main":"CuK","sub":"β","adc":3383,"val":1875},
{"cls":"mid","main":"SrK","sub":"β","adc":5544,"val":1178},
{"cls":"small","main":"CrK","sub":"α","adc":2244,"val":702},
{"cls":"small","main":"MnK","sub":"α","adc":2398,"val":366},
{"cls":"small","main":"ZnK","sub":"α","adc":2908,"val":555}
]
},
"encoding": {
"x": {"field": "adc", "type": "quantitative",
 "scale": {"domain": [1600, 6600], "nice": false, "zero": false},
 "axis": {"values": [1700,1800,1900,2000,2100,2200,2300,2400,2500,2600,2700,2800,2900,3000,3100,3200,3300,3400,3500,3600,3700,3800,3900,4000,4100,4200,4300,4400,4500,4600,4700,4800,4900,5000,5100,5200,5300,5400,5500,5600,5700,5800,5900,6000,6100,6200,6300,6400,6500],
  "format": "d", "labelExpr": "datum.value % 500 == 0 ? datum.label : ''",
  "tickSize": {"condition": {"test": "datum.value % 500 != 0", "value": -5}, "value": -10},
  "labelPadding": 15, "domain": false, "grid": false, "tickColor": "black", "tickWidth": 1,
  "labelFont": "Liberation Sans", "labelFontSize": 14.5, "labelColor": "black", "labelFlush": false, "labelOverlap": false,
  "title": "ADC counts", "titleFont": "Liberation Sans", "titleFontSize": 16, "titleFontWeight": "normal", "titleColor": "black", "titlePadding": -4}},
"y": {"field": "val", "type": "quantitative",
 "scale": {"type": "log", "domain": [14.5, 21800], "nice": false},
 "axis": {"values": [20,30,40,50,60,70,80,90,100,200,300,400,500,600,700,800,900,1000,2000,3000,4000,5000,6000,7000,8000,9000,10000,20000],
  "labelExpr": "datum.value == 100 ? '10²' : datum.value == 1000 ? '10³' : datum.value == 10000 ? '10⁴' : ''",
  "tickSize": {"condition": {"test": "datum.value != 100 && datum.value != 1000 && datum.value != 10000", "value": -19}, "value": -37},
  "labelPadding": 51, "domain": false, "grid": false, "tickColor": "black", "tickWidth": 1,
  "labelFont": "Liberation Sans", "labelFontSize": 15, "labelColor": "black", "labelFlush": false, "labelOverlap": false,
  "title": "Events / 4 [ADC counts]", "titleFont": "Liberation Sans", "titleFontSize": 16, "titleFontWeight": "normal", "titleColor": "black", "titlePadding": 36}}
},
"layer": [
{"data": {"name": "hist"}, "mark": {"type": "line", "interpolate": "step", "color": "#111", "strokeWidth": 1, "clip": true}},
{"data": {"name": "curves"}, "transform": [{"filter": "datum.series == 'Fit'"}],
 "mark": {"type": "line", "interpolate": "monotone", "strokeWidth": 2, "clip": true},
 "encoding": {"detail": {"field": "part"},
  "color": {"field": "series", "type": "nominal",
   "scale": {"domain": ["Fit", "Gauss", "Linear bkg", "Tail"], "range": ["#ff0000", "#0000ff", "#00ff00", "#ff00ff"]},
   "legend": {"orient": "none", "legendX": 962, "legendY": 14, "title": "SDD 1", "titleAnchor": "middle",
    "titleFont": "Liberation Sans", "titleFontSize": 13, "titleFontWeight": "normal", "titleColor": "black", "titlePadding": 5,
    "labelFont": "Liberation Sans", "labelFontSize": 13, "labelColor": "black", "labelLimit": 400, "labelOffset": 9,
    "labelExpr": "datum.label == 'Fit' ? 'Fit                                             \u200b' : datum.label",
    "symbolType": "stroke", "symbolSize": 1849, "symbolStrokeWidth": 2.5, "symbolOffset": 6, "clipHeight": 13, "rowPadding": 4.3,
    "fillColor": "white", "strokeColor": "black", "padding": 4,
    "encode": {"legend": {"update": {"strokeWidth": {"value": 1.5}}}}}}}},
{"data": {"name": "curves"}, "transform": [{"filter": "datum.series == 'Gauss'"}],
 "mark": {"type": "line", "interpolate": "monotone", "strokeWidth": 1.8, "clip": true},
 "encoding": {"detail": {"field": "part"}, "color": {"field": "series", "type": "nominal"}}},
{"data": {"name": "curves"}, "transform": [{"filter": "datum.series == 'Linear bkg'"}],
 "mark": {"type": "line", "interpolate": "linear", "strokeWidth": 1.6, "clip": true},
 "encoding": {"detail": {"field": "part"}, "color": {"field": "series", "type": "nominal"}}},
{"data": {"name": "curves"}, "transform": [{"filter": "datum.series == 'Tail'"}],
 "mark": {"type": "line", "interpolate": "linear", "strokeWidth": 1.6, "clip": true},
 "encoding": {"detail": {"field": "part"}, "color": {"field": "series", "type": "nominal"}}},
{"data": {"name": "labels"}, "transform": [{"filter": "datum.cls == 'big'"}],
 "mark": {"type": "text", "align": "right", "baseline": "alphabetic", "font": "Liberation Sans", "fontWeight": "bold", "fontSize": 19, "color": "black"},
 "encoding": {"text": {"field": "main"}}},
{"data": {"name": "labels"}, "transform": [{"filter": "datum.cls == 'big'"}],
 "mark": {"type": "text", "align": "left", "baseline": "alphabetic", "font": "Liberation Sans", "fontWeight": "normal", "fontSize": 13, "dy": 4, "dx": 0.5, "color": "black"},
 "encoding": {"text": {"field": "sub"}}},
{"data": {"name": "labels"}, "transform": [{"filter": "datum.cls == 'mid'"}],
 "mark": {"type": "text", "align": "right", "baseline": "alphabetic", "font": "Liberation Sans", "fontWeight": "bold", "fontSize": 15, "color": "black"},
 "encoding": {"text": {"field": "main"}}},
{"data": {"name": "labels"}, "transform": [{"filter": "datum.cls == 'mid'"}],
 "mark": {"type": "text", "align": "left", "baseline": "alphabetic", "font": "Liberation Sans", "fontWeight": "normal", "fontSize": 11, "dy": 3, "dx": 0.5, "color": "black"},
 "encoding": {"text": {"field": "sub"}}},
{"data": {"name": "labels"}, "transform": [{"filter": "datum.cls == 'small'"}],
 "mark": {"type": "text", "align": "right", "baseline": "alphabetic", "font": "Liberation Sans", "fontWeight": "bold", "fontSize": 11.5, "color": "black"},
 "encoding": {"text": {"field": "main"}}},
{"data": {"name": "labels"}, "transform": [{"filter": "datum.cls == 'small'"}],
 "mark": {"type": "text", "align": "left", "baseline": "alphabetic", "font": "Liberation Sans", "fontWeight": "normal", "fontSize": 8, "dy": 2, "dx": 0.5, "color": "black"},
 "encoding": {"text": {"field": "sub"}}}
]
}
